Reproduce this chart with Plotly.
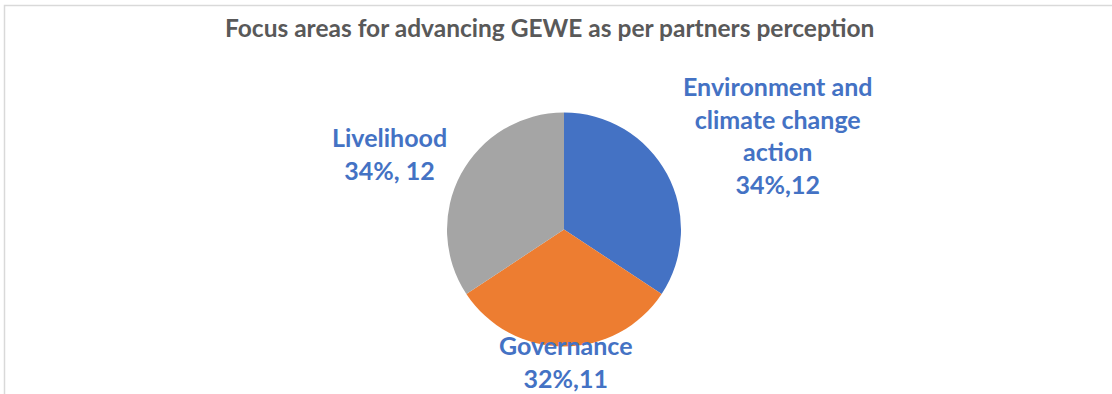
import plotly.graph_objects as go

# Data
categories = ["Environment and climate change action", "Governance", "Livelihood"]
counts = [12, 11, 12]
shares = ["34%", "32%", "34%"]
label_text = [
    "Environment and<br>climate change<br>action<br>{p},{n}",
    "Governance<br>{p},{n}",
    "Livelihood<br>{p}, {n}",
]
colors = ["#4472C4", "#ED7D31", "#A5A5A5"]
title = "Focus areas for advancing GEWE as per partners perception"

W, H = 1112, 394


def px_x(x):
    return x / W


def px_y(y):
    return 1 - y / H


# pie geometry in pixels
cx, cy, r = 564, 229.5, 117

fig = go.Figure()

fig.add_trace(go.Pie(
    labels=categories,
    values=counts,
    sort=False,
    direction="clockwise",
    rotation=0,
    marker=dict(colors=colors, line=dict(width=0)),
    textinfo="none",
    hoverinfo="label+value+percent",
    showlegend=False,
    domain=dict(x=[px_x(cx - r), px_x(cx + r)], y=[px_y(cy + r), px_y(cy - r)]),
))

# data label placement (pixel centres)
label_pos = [(777, 135), (566, 361), (389, 153)]
for txt, p, n, (lx, ly) in zip(label_text, shares, counts, label_pos):
    fig.add_annotation(
        x=px_x(lx), y=px_y(ly), xref="paper", yref="paper",
        text="<b>" + txt.format(p=p, n=n) + "</b>",
        showarrow=False, xanchor="center", yanchor="middle",
        align="center",
        font=dict(family="Lato", size=25, color="#4472C4"),
    )

fig.add_annotation(
    x=px_x(549), y=px_y(27), xref="paper", yref="paper",
    text="<b>" + title + "</b>",
    showarrow=False, xanchor="center", yanchor="middle",
    font=dict(family="Lato", size=24.5, color="#595959"),
)

# chart frame
fig.add_shape(
    type="rect", xref="paper", yref="paper",
    x0=px_x(4.5), x1=1.05, y0=-0.05, y1=px_y(5.5),
    line=dict(color="#D9D9D9", width=1.5), fillcolor="rgba(0,0,0,0)",
)

fig.update_layout(
    width=W, height=H,
    margin=dict(l=0, r=0, t=0, b=0),
    paper_bgcolor="white",
    plot_bgcolor="white",
)

fig.write_html("out.html")
